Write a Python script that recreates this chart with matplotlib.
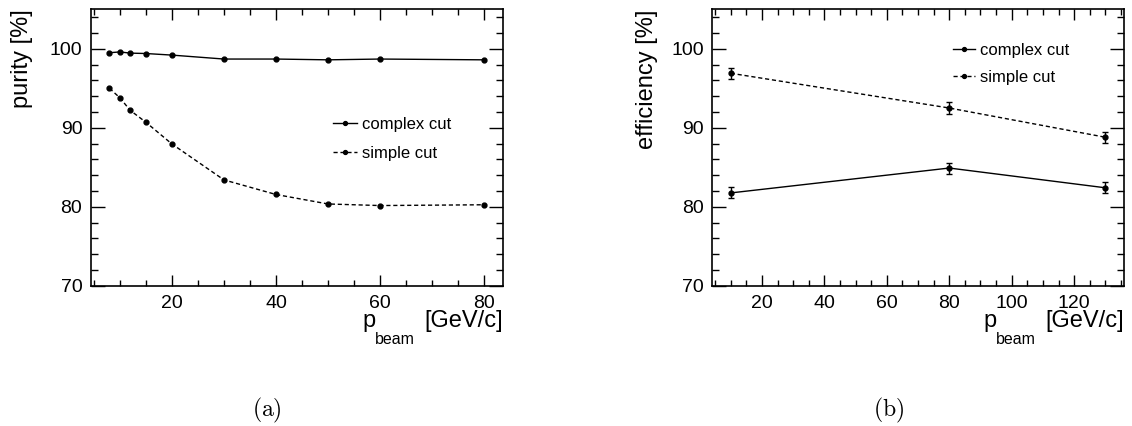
import matplotlib
matplotlib.use('Agg')
import matplotlib.pyplot as plt
from matplotlib.ticker import MultipleLocator

plt.rcParams['font.family'] = ['Liberation Sans', 'DejaVu Sans']

# purity vs beam momentum
p_purity = [8, 10, 12, 15, 20, 30, 40, 50, 60, 80]
purity_complex = [99.5, 99.6, 99.45, 99.4, 99.2, 98.7, 98.7, 98.6, 98.7, 98.6]
purity_simple = [95.0, 93.8, 92.2, 90.7, 87.95, 83.4, 81.55, 80.35, 80.15, 80.25]

# efficiency vs beam momentum
p_eff = [10, 80, 130]
eff_complex = [81.75, 84.9, 82.4]
eff_simple = [96.9, 92.5, 88.8]
eff_complex_err = [0.7, 0.7, 0.7]
eff_simple_err = [0.7, 0.7, 0.7]

labels = ['complex cut', 'simple cut']

fig = plt.figure(figsize=(11.32, 4.26), dpi=100)
ax1 = fig.add_axes([0.0801, 0.3293, 0.3642, 0.6489])
ax2 = fig.add_axes([0.6290, 0.3293, 0.3640, 0.6489])


def style(ax, xmin, xmax):
    ax.set_xlim(xmin, xmax)
    ax.set_ylim(70, 105)
    ax.xaxis.set_major_locator(MultipleLocator(20))
    ax.xaxis.set_minor_locator(MultipleLocator(5))
    ax.yaxis.set_major_locator(MultipleLocator(10))
    ax.yaxis.set_minor_locator(MultipleLocator(2))
    ax.tick_params(which='both', direction='in', top=True, right=True, width=1)
    ax.tick_params(axis='x', which='major', length=8, pad=6.5, labelsize=14)
    ax.tick_params(axis='x', which='minor', length=4)
    ax.tick_params(axis='y', which='major', length=10, pad=6, labelsize=14)
    ax.tick_params(axis='y', which='minor', length=5)
    ax.set_yticks([70, 80, 90, 100])
    for s in ax.spines.values():
        s.set_linewidth(1.2)
    # p_beam [GeV/c], with a deep subscript
    kw = dict(xy=(1, 0), xycoords='axes fraction', textcoords='offset points',
              va='baseline')
    ax.annotate('[GeV/c]', xytext=(0, -29.5), ha='right', fontsize=17, **kw)
    ax.annotate('beam', xytext=(-77.8, -42.0), ha='center', fontsize=11.5, **kw)
    ax.annotate('p', xytext=(-96.8, -29.5), ha='center', fontsize=17, **kw)


style(ax1, 4.4, 83.6)
ax1.plot(p_purity, purity_complex, '-', color='black', lw=1, marker='o', ms=3.5,
         label=labels[0])
ax1.plot(p_purity, purity_simple, '--', color='black', lw=1, marker='o', ms=3.5,
         dashes=(3, 2), label=labels[1])
ax1.set_ylabel('purity [%]', fontsize=17, loc='top')
ax1.yaxis.set_label_coords(-0.140, 1.0)
ax1.legend(loc='upper left', bbox_to_anchor=(0.588, 0.612), frameon=False,
           fontsize=12, handlelength=1.45, handletextpad=0.3, labelspacing=0.85,
           borderpad=0, borderaxespad=0, numpoints=1, markerscale=0.8)

style(ax2, 4, 136)
ax2.errorbar(p_eff, eff_complex, yerr=eff_complex_err, fmt='-', color='black', lw=1,
             marker='o', ms=3.5, capsize=2, elinewidth=1, label=labels[0])
ax2.errorbar(p_eff, eff_simple, yerr=eff_simple_err, fmt='--', color='black', lw=1,
             marker='o', ms=3.5, capsize=2, elinewidth=1, dashes=(3, 2), label=labels[1])
ax2.set_ylabel('efficiency [%]', fontsize=17, loc='top')
ax2.yaxis.set_label_coords(-0.130, 1.0)
h, l = ax2.get_legend_handles_labels()
ax2.legend([x[0] for x in h], l, loc='upper left', bbox_to_anchor=(0.584, 0.879),
           frameon=False, fontsize=12, handlelength=1.35, handletextpad=0.3,
           labelspacing=0.72, borderpad=0, borderaxespad=0, numpoints=1, markerscale=0.8)

fig.text(0.2359, 0.036, r'$\mathrm{(a)}$', math_fontfamily='cm', fontsize=17,
         ha='center', va='center')
fig.text(0.7853, 0.036, r'$\mathrm{(b)}$', math_fontfamily='cm', fontsize=17,
         ha='center', va='center')

fig.savefig('out.png', dpi=100)
